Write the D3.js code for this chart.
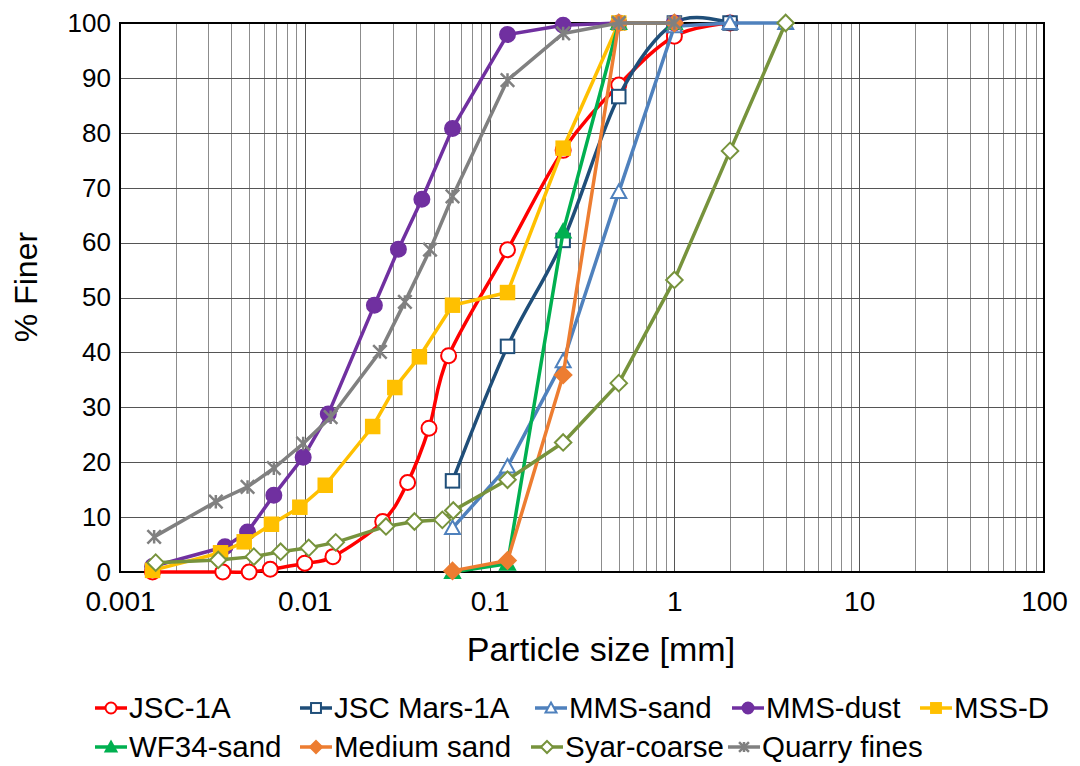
<!DOCTYPE html>
<html>
<head>
<meta charset="utf-8">
<script src="https://cdn.jsdelivr.net/npm/d3@7"></script>
<style>
  body { margin: 0; background: #fff; }
  text { font-family: "Liberation Sans", Arial, sans-serif; fill: #000; }
</style>
</head>
<body>
<div id="chart"></div>
<script>
// sieve data: [particle size mm, % finer]
var jsc1a = [[0.0015,0],[0.0036,0],[0.005,0],[0.0065,0.5],[0.01,1.6],[0.0142,2.8],[0.0264,9.2],[0.036,16.3],[0.047,26.2],[0.06,39.4],[0.125,58.7],[0.25,76.8],[0.5,88.7],[1,97.6],[2,100]];
var jscMars = [[0.063,16.6],[0.125,41.1],[0.25,60.4],[0.5,86.6],[1,100],[2,100]];
var mmsSand = [[0.063,8.0],[0.125,19.2],[0.25,38.4],[0.5,69.2],[1,99.4],[2,100],[4,100]];
var mmsDust = [[0.0015,1.0],[0.0037,4.6],[0.0049,7.3],[0.0068,14.0],[0.0098,20.9],[0.0134,28.8],[0.0238,48.6],[0.0321,58.8],[0.043,67.9],[0.063,80.8],[0.125,97.9],[0.25,99.6],[0.5,100],[1,100]];
var mssD = [[0.0015,0.3],[0.0035,3.5],[0.0047,5.5],[0.0066,8.7],[0.0094,11.8],[0.0129,15.8],[0.0233,26.5],[0.0307,33.6],[0.0417,39.2],[0.063,48.6],[0.125,50.9],[0.25,77.2],[0.5,100]];
var wf34 = [[0.063,0],[0.125,1.5],[0.25,62.0],[0.5,100],[1,100]];
var mediumSand = [[0.063,0.2],[0.125,2.1],[0.25,35.9],[0.5,100],[1,100]];
var syar = [[0.00156,1.7],[0.0034,2.2],[0.0053,2.8],[0.0074,3.7],[0.0105,4.4],[0.0147,5.4],[0.0275,8.3],[0.0392,9.2],[0.0555,9.5],[0.0636,11.2],[0.125,16.8],[0.25,23.6],[0.5,34.4],[1,53.2],[2,76.7],[4,100]];
var quarry = [[0.00153,6.4],[0.0033,12.8],[0.0049,15.5],[0.0068,18.9],[0.0098,23.4],[0.0138,28.2],[0.0255,40.1],[0.0348,49.2],[0.0476,58.7],[0.063,68.4],[0.125,89.6],[0.25,98.1],[0.5,100],[1,100]];

var seriesNames = ["JSC-1A","JSC Mars-1A","MMS-sand","MMS-dust","MSS-D","WF34-sand","Medium sand","Syar-coarse","Quarry fines"];
var seriesData = [jsc1a, jscMars, mmsSand, mmsDust, mssD, wf34, mediumSand, syar, quarry];
var seriesColors = ["#ff0000","#1f4e79","#4f81bd","#7030a0","#ffc000","#00b050","#ed7d31","#77933c","#808080"];
var seriesMarkers = ["circleOpen","squareOpen","triangleOpen","circle","square","triangle","diamond","diamondOpen","star"];
var seriesSmooth = [true, true, false, false, false, false, false, false, false];

var yTicks = [0,10,20,30,40,50,60,70,80,90,100];
var xTicks = [0.001,0.01,0.1,1,10,100];

var W = 1080, H = 766;
var plot = {left: 120, right: 1044, top: 23, bottom: 572};

var svg = d3.select("#chart").append("svg")
    .attr("width", W)
    .attr("height", H);

var x = d3.scaleLog().domain([0.001, 100]).range([plot.left, plot.right]);
var y = d3.scaleLinear().domain([0, 100]).range([plot.bottom, plot.top]);

// minor + major vertical grid
var gridX = [];
xTicks.forEach(function(t, i) {
    if (i == xTicks.length - 1) return;
    for (var k = 1; k < 10; k++) gridX.push(t * k);
});
svg.append("g").selectAll("line")
    .data(gridX)
    .enter().append("line")
    .attr("x1", function(d) { return Math.round(x(d)) + 0.5; })
    .attr("x2", function(d) { return Math.round(x(d)) + 0.5; })
    .attr("y1", plot.top)
    .attr("y2", plot.bottom)
    .style("stroke", function(d, i) { return i % 9 == 0 ? "#555" : "#8c8c8c"; })
    .style("stroke-width", 1);

svg.append("g").selectAll("line")
    .data(yTicks)
    .enter().append("line")
    .attr("x1", plot.left)
    .attr("x2", plot.right)
    .attr("y1", function(d) { return Math.round(y(d)) + 0.5; })
    .attr("y2", function(d) { return Math.round(y(d)) + 0.5; })
    .style("stroke", "#555")
    .style("stroke-width", 1);

// frame
svg.append("rect")
    .attr("x", plot.left)
    .attr("y", plot.top)
    .attr("width", plot.right - plot.left)
    .attr("height", plot.bottom - plot.top)
    .style("fill", "none")
    .style("stroke", "#000")
    .style("stroke-width", 2);

// axes
var yAxis = d3.axisLeft(y).tickValues(yTicks).tickSize(0).tickPadding(9);
var gy = svg.append("g").attr("transform", "translate(" + plot.left + ",0)").call(yAxis);
gy.select(".domain").remove();
gy.selectAll("text").style("font-size", "26px").style("font-family", "Liberation Sans, Arial, sans-serif");

var xAxis = d3.axisBottom(x).tickValues(xTicks).tickSize(0).tickPadding(19)
    .tickFormat(function(d) { return String(d); });
var gx = svg.append("g").attr("transform", "translate(0," + plot.bottom + ")").call(xAxis);
gx.select(".domain").remove();
gx.selectAll("text").style("font-size", "28px").style("font-family", "Liberation Sans, Arial, sans-serif");

svg.append("text")
    .attr("x", (plot.left + plot.right) / 2 + 19)
    .attr("y", 661)
    .attr("text-anchor", "middle")
    .style("font-size", "34px")
    .text("Particle size [mm]");

svg.append("text")
    .attr("transform", "translate(37,287) rotate(-90)")
    .attr("text-anchor", "middle")
    .style("font-size", "32px")
    .text("% Finer");

// markers
function drawMarker(g, type, color, size) {
    var s = size;
    if (type == "circleOpen" || type == "circle") {
        g.append("circle").attr("r", s * 0.5)
            .style("fill", type == "circle" ? color : "#fff")
            .style("stroke", color).style("stroke-width", 2);
    } else if (type == "squareOpen" || type == "square") {
        g.append("rect").attr("x", -s * 0.45).attr("y", -s * 0.45)
            .attr("width", s * 0.9).attr("height", s * 0.9)
            .style("fill", type == "square" ? color : "#fff")
            .style("stroke", color).style("stroke-width", 2);
    } else if (type == "triangleOpen" || type == "triangle") {
        var h = s * 0.5;
        g.append("path").attr("d", "M0," + (-h) + "L" + h + "," + (h * 0.8) + "L" + (-h) + "," + (h * 0.8) + "Z")
            .style("fill", type == "triangle" ? color : "#fff")
            .style("stroke", color).style("stroke-width", 2);
    } else if (type == "diamondOpen" || type == "diamond") {
        var r = s * 0.55;
        g.append("path").attr("d", "M0," + (-r) + "L" + r + ",0L0," + r + "L" + (-r) + ",0Z")
            .style("fill", type == "diamond" ? color : "#fff")
            .style("stroke", color).style("stroke-width", 2);
    } else if (type == "star") {
        var a = s * 0.45;
        g.append("path").attr("d", "M" + (-a) + "," + (-a) + "L" + a + "," + a + "M" + a + "," + (-a) + "L" + (-a) + "," + a + "M0," + (-a) + "L0," + a)
            .style("fill", "none")
            .style("stroke", color).style("stroke-width", 2.5);
    }
}

var plotG = svg.append("g");
seriesData.forEach(function(data, i) {
    var line = d3.line()
        .x(function(d) { return x(d[0]); })
        .y(function(d) { return y(d[1]); })
        .curve(seriesSmooth[i] ? d3.curveCatmullRom.alpha(0) : d3.curveLinear);

    var sg = plotG.append("g").attr("class", "series");
    sg.append("path")
        .datum(data)
        .attr("d", line)
        .style("fill", "none")
        .style("stroke", seriesColors[i])
        .style("stroke-width", 3.5)
        .style("stroke-linejoin", "round");

    sg.selectAll(".pt")
        .data(data)
        .enter().append("g")
        .attr("class", "pt")
        .attr("transform", function(d) { return "translate(" + x(d[0]) + "," + y(d[1]) + ")"; })
        .each(function() { drawMarker(d3.select(this), seriesMarkers[i], seriesColors[i], 15); });
});

// legend
var legendPos = [[95,708],[300,708],[535,708],[732,708],[920,708],[95,747],[300,747],[531,747],[728,747]];
var leg = svg.append("g");
seriesNames.forEach(function(name, i) {
    var lg = leg.append("g").attr("transform", "translate(" + legendPos[i][0] + "," + legendPos[i][1] + ")");
    lg.append("line").attr("x1", 0).attr("x2", 32).attr("y1", 0).attr("y2", 0)
        .style("stroke", seriesColors[i]).style("stroke-width", 3.5);
    var mg = lg.append("g").attr("transform", "translate(16,0)");
    drawMarker(mg, seriesMarkers[i], seriesColors[i], 11);
    lg.append("text").attr("x", 34).attr("y", 10)
        .style("font-size", "29.5px")
        .text(name);
});
</script>
</body>
</html>
